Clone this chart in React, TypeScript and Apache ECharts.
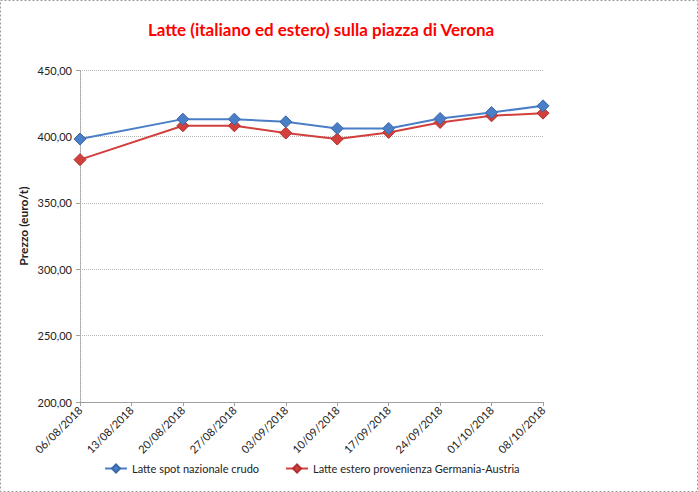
import React, { useEffect, useRef } from "react";
import * as echarts from "echarts";

const dates = ["06/08/2018", "13/08/2018", "20/08/2018", "27/08/2018", "03/09/2018", "10/09/2018", "17/09/2018", "24/09/2018", "01/10/2018", "08/10/2018"];
const nazionale = [398, null, 413, 413, 411, 406, 406, 413.5, 418, 423];
const estero = [382.5, null, 408, 408, 402.5, 398, 403, 410.5, 415.5, 417.5];
const seriesNames = ["Latte spot nazionale crudo", "Latte estero provenienza Germania-Austria"];
const yAxisName = "Prezzo (euro/t)";

const FONT = "Lato, 'Open Sans', sans-serif";

export default function App() {
  const ref = useRef<HTMLDivElement>(null);
  useEffect(() => {
    if (!ref.current) return;
    const chart = echarts.init(ref.current, undefined, { renderer: "svg" });
    chart.setOption({
      animation: false,
      backgroundColor: "#ffffff",
      textStyle: { fontFamily: FONT },
      title: {
        text: "Latte (italiano ed estero) sulla piazza di Verona",
        left: 316,
        textAlign: "center",
        top: 16,
        textStyle: { color: "#ff0000", fontSize: 17, fontWeight: "bold", fontFamily: FONT },
      },
      graphic: [
        {
          type: "rect",
          shape: { x: 0.5, y: 0.5, width: 697, height: 491 },
          style: { fill: "none", stroke: "#9a9a9a", lineWidth: 1, lineDash: [2, 2] },
          silent: true,
        },
        {
          type: "text",
          x: 23,
          y: 226,
          rotation: Math.PI / 2,
          style: {
            text: yAxisName,
            fill: "#222",
            font: "bold 12px " + FONT,
            textAlign: "center",
            textVerticalAlign: "middle",
          },
          silent: true,
        },
      ],
      legend: {
        left: 99,
        top: 458,
        itemWidth: 22,
        itemHeight: 10,
        itemGap: 26,
        textStyle: { fontSize: 11, color: "#222", fontFamily: FONT },
        data: seriesNames,
      },
      grid: { left: 80, right: 155, top: 70, bottom: 90, containLabel: false },
      xAxis: {
        type: "category",
        data: dates,
        boundaryGap: false,
        axisLine: { lineStyle: { color: "#a0a0a0" } },
        axisTick: { show: true, length: 4, lineStyle: { color: "#a0a0a0" } },
        axisLabel: { rotate: 45, fontSize: 11, color: "#222", margin: 6, interval: 0, fontFamily: FONT },
        splitLine: { show: false },
      },
      yAxis: {
        type: "value",
        min: 200,
        max: 450,
        interval: 50,
        axisLine: { show: true, lineStyle: { color: "#a0a0a0", type: "dotted" } },
        axisTick: { show: true, length: 4, lineStyle: { color: "#a0a0a0" } },
        axisLabel: {
          fontSize: 11,
          color: "#222",
          margin: 8,
          fontFamily: FONT,
          formatter: (v: number) => v.toFixed(2).replace(".", ","),
        },
        splitLine: { show: true, lineStyle: { color: "#b8b8b8", type: "dotted" } },
      },
      series: [
        {
          name: seriesNames[0],
          type: "line",
          data: nazionale,
          connectNulls: true,
          symbol: "diamond",
          symbolSize: 12,
          lineStyle: { color: "#4a7ec7", width: 2 },
          itemStyle: { color: "#4a7ec7", borderColor: "#3a68a8", borderWidth: 1 },
          z: 3,
        },
        {
          name: seriesNames[1],
          type: "line",
          data: estero,
          connectNulls: true,
          symbol: "diamond",
          symbolSize: 12,
          lineStyle: { color: "#d2403d", width: 2 },
          itemStyle: { color: "#d2403d", borderColor: "#b03030", borderWidth: 1 },
          z: 2,
        },
      ],
    });
    return () => chart.dispose();
  }, []);
  return <div ref={ref} style={{ position: "fixed", left: 0, top: 0, width: 698, height: 492 }} />;
}
